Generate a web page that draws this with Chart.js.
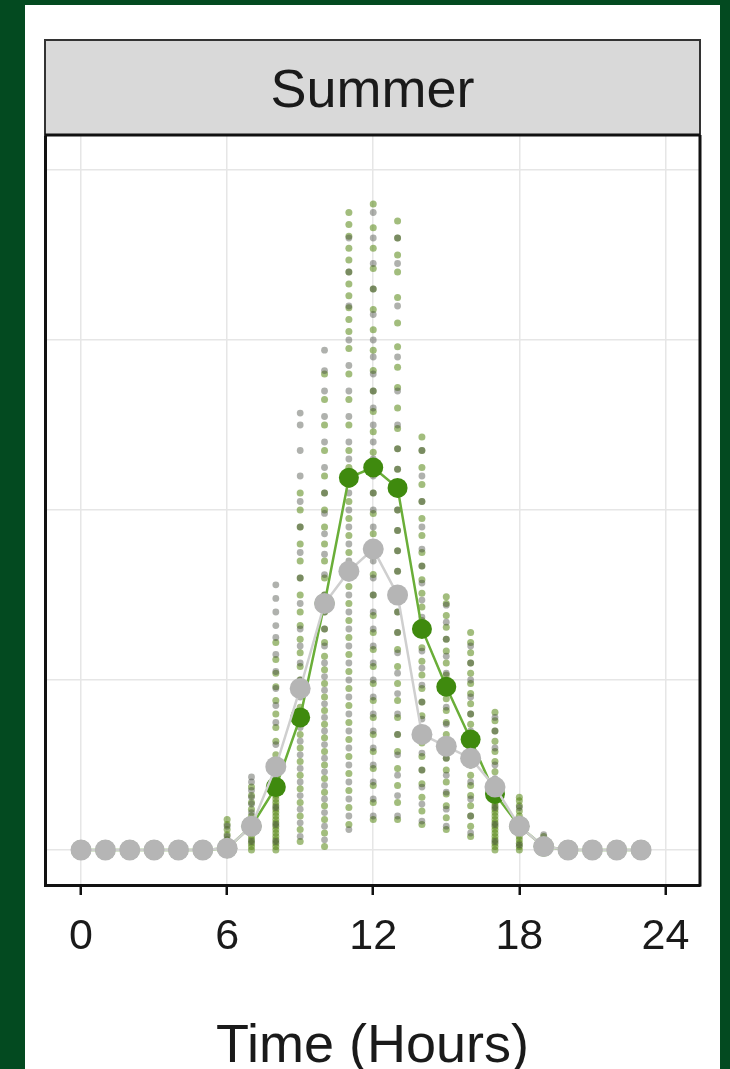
<!DOCTYPE html>
<html>
<head>
<meta charset="utf-8">
<script src="https://cdn.jsdelivr.net/npm/chart.js@4/dist/chart.umd.min.js"></script>
<style>
  html, body { margin: 0; padding: 0; background: #034a20; width: 730px; height: 1069px; overflow: hidden; }
  #wrap { position: absolute; left: 25px; top: 5px; width: 695px; height: 1064px; background: #ffffff; }
  canvas { display: block; }
</style>
</head>
<body>
<div id="wrap"><canvas id="c" width="695" height="1064"></canvas></div>
<script>
// Hour of day for each hourly mean
const hours = [0, 1, 2, 3, 4, 5, 6, 7, 8, 9, 10, 11, 12, 13, 14, 15, 16, 17, 18, 19, 20, 21, 22, 23];
const xTickValues = [0, 6, 12, 18, 24];
const yGridValues = [0, 1, 2, 3, 4];
const panelTitle = 'Summer';
const xTitle = 'Time (Hours)';

// Hourly means
const greenMean = [0, 0, 0, 0, 0, 0, 0.01, 0.14, 0.37, 0.78, 1.45, 2.19, 2.25, 2.13, 1.30, 0.96, 0.65, 0.33, 0.14, 0.02, 0, 0, 0, 0];
const grayMean  = [0, 0, 0, 0, 0, 0, 0.01, 0.14, 0.49, 0.95, 1.45, 1.64, 1.77, 1.50, 0.68, 0.61, 0.54, 0.37, 0.14, 0.02, 0, 0, 0, 0];

// Individual observations, one list per hour (0..23)
const greenObs = [
  [], [], [], [], [], [],
  [0.0, 0.03, 0.06, 0.09, 0.12, 0.15, 0.18],
  [0.0, 0.02, 0.04, 0.06, 0.08, 0.10, 0.12, 0.14, 0.17, 0.20, 0.24, 0.28, 0.32, 0.37],
  [0.0, 0.02, 0.04, 0.06, 0.08, 0.10, 0.12, 0.14, 0.16, 0.18, 0.20, 0.22, 0.24, 0.26, 0.28, 0.30, 0.32, 0.34, 0.36, 0.40, 0.48, 0.56, 0.64, 0.72, 0.80, 0.88, 0.96, 1.04, 1.12, 1.22],
  [0.05, 0.12, 0.20, 0.28, 0.36, 0.44, 0.52, 0.60, 0.68, 0.76, 0.84, 0.92, 1.00, 1.08, 1.16, 1.24, 1.32, 1.40, 1.50, 1.60, 1.70, 1.80, 1.90, 2.00, 2.10],
  [0.02, 0.10, 0.18, 0.26, 0.34, 0.42, 0.50, 0.58, 0.66, 0.74, 0.82, 0.90, 0.98, 1.06, 1.14, 1.22, 1.30, 1.40, 1.50, 1.60, 1.70, 1.80, 1.90, 2.00, 2.10, 2.20, 2.35, 2.50, 2.65, 2.80],
  [0.15, 0.25, 0.35, 0.45, 0.55, 0.65, 0.75, 0.85, 0.95, 1.05, 1.15, 1.25, 1.35, 1.45, 1.55, 1.65, 1.75, 1.85, 1.95, 2.05, 2.15, 2.25, 2.35, 2.50, 2.65, 2.80, 2.95, 3.05, 3.12, 3.19, 3.26, 3.33, 3.40, 3.47, 3.54, 3.61, 3.68, 3.75],
  [0.18, 0.28, 0.38, 0.48, 0.58, 0.68, 0.78, 0.88, 0.98, 1.08, 1.18, 1.28, 1.38, 1.50, 1.62, 1.74, 1.86, 1.98, 2.10, 2.22, 2.34, 2.46, 2.58, 2.70, 2.82, 2.94, 3.06, 3.18, 3.30, 3.42, 3.54, 3.66, 3.80],
  [0.18, 0.28, 0.38, 0.48, 0.58, 0.68, 0.78, 0.88, 0.98, 1.08, 1.18, 1.28, 1.40, 1.52, 1.64, 1.76, 1.88, 2.00, 2.12, 2.24, 2.36, 2.48, 2.60, 2.72, 2.84, 2.96, 3.10, 3.25, 3.40, 3.50, 3.60, 3.70],
  [0.15, 0.23, 0.31, 0.39, 0.47, 0.55, 0.63, 0.71, 0.79, 0.87, 0.95, 1.03, 1.11, 1.19, 1.27, 1.35, 1.43, 1.51, 1.59, 1.67, 1.75, 1.85, 1.95, 2.05, 2.15, 2.25, 2.35, 2.43],
  [0.12, 0.19, 0.26, 0.33, 0.40, 0.47, 0.54, 0.61, 0.68, 0.75, 0.82, 0.89, 0.96, 1.03, 1.10, 1.17, 1.24, 1.31, 1.38, 1.45, 1.49],
  [0.08, 0.14, 0.20, 0.26, 0.32, 0.38, 0.44, 0.50, 0.56, 0.62, 0.68, 0.74, 0.80, 0.86, 0.92, 0.98, 1.04, 1.10, 1.16, 1.22, 1.28],
  [0.0, 0.02, 0.04, 0.06, 0.08, 0.10, 0.12, 0.14, 0.16, 0.18, 0.20, 0.22, 0.24, 0.26, 0.28, 0.30, 0.32, 0.35, 0.40, 0.46, 0.52, 0.58, 0.64, 0.70, 0.76, 0.81],
  [0.0, 0.02, 0.04, 0.06, 0.08, 0.10, 0.12, 0.14, 0.16, 0.18, 0.20, 0.23, 0.26, 0.29, 0.31],
  [0.02, 0.05, 0.08],
  [], [], [], []
];
const grayObs = [
  [], [], [], [], [], [],
  [0.02, 0.08, 0.14],
  [0.05, 0.15, 0.22, 0.27, 0.31, 0.35, 0.40, 0.43],
  [0.05, 0.15, 0.25, 0.42, 0.52, 0.62, 0.75, 0.85, 0.95, 1.05, 1.15, 1.25, 1.32, 1.40, 1.48, 1.56],
  [0.08, 0.16, 0.24, 0.32, 0.40, 0.48, 0.56, 0.64, 0.72, 0.80, 0.90, 1.00, 1.10, 1.20, 1.30, 1.45, 1.60, 1.75, 1.90, 2.05, 2.20, 2.35, 2.50, 2.57],
  [0.06, 0.14, 0.22, 0.30, 0.38, 0.46, 0.54, 0.62, 0.70, 0.78, 0.86, 0.94, 1.02, 1.10, 1.20, 1.30, 1.40, 1.50, 1.62, 1.74, 1.86, 1.98, 2.10, 2.25, 2.40, 2.55, 2.70, 2.82, 2.94],
  [0.12, 0.20, 0.30, 0.40, 0.50, 0.60, 0.70, 0.80, 0.90, 1.00, 1.10, 1.20, 1.30, 1.40, 1.50, 1.60, 1.70, 1.80, 1.90, 2.00, 2.10, 2.20, 2.30, 2.40, 2.55, 2.70, 2.85, 3.00, 3.20, 3.40, 3.60],
  [0.20, 0.30, 0.40, 0.50, 0.60, 0.70, 0.80, 0.90, 1.00, 1.10, 1.20, 1.30, 1.40, 1.50, 1.60, 1.70, 1.80, 1.90, 2.00, 2.10, 2.20, 2.30, 2.40, 2.50, 2.60, 2.70, 2.80, 2.90, 3.00, 3.15, 3.30, 3.45, 3.60, 3.75],
  [0.20, 0.32, 0.44, 0.56, 0.68, 0.80, 0.92, 1.04, 1.16, 1.28, 1.40, 1.52, 1.64, 1.76, 1.88, 2.00, 2.12, 2.24, 2.36, 2.50, 2.70, 2.90, 3.20, 3.45, 3.60],
  [0.17, 0.27, 0.37, 0.47, 0.57, 0.67, 0.77, 0.87, 0.97, 1.07, 1.17, 1.27, 1.37, 1.47, 1.57, 1.67, 1.77, 1.90, 2.05, 2.20, 2.35],
  [0.14, 0.24, 0.34, 0.44, 0.54, 0.64, 0.74, 0.84, 0.94, 1.04, 1.14, 1.24, 1.34, 1.44],
  [0.10, 0.20, 0.30, 0.40, 0.50, 0.60, 0.70, 0.80, 0.90, 1.00, 1.10, 1.20],
  [0.05, 0.15, 0.25, 0.35, 0.42, 0.50, 0.60, 0.70, 0.78],
  [0.03, 0.10, 0.18, 0.25],
  [0.04, 0.09],
  [], [], [], []
];

const FONT = '"Liberation Sans", Arial, Helvetica, sans-serif';
const INK = '#1a1a1a';

const toPoints = (values) => values.map((v, i) => ({ x: hours[i], y: v }));
const obsPoints = (lists) => lists.flatMap((vals, h) => vals.map(v => ({ x: hours[h], y: v })));

// Facet strip above the panel and the panel's right edge
const facetFrame = {
  id: 'facetFrame',
  afterDraw(chart) {
    const { ctx, chartArea: a } = chart;
    const stripH = 95;
    const top = a.top - stripH;
    ctx.save();
    ctx.fillStyle = '#d9d9d9';
    ctx.fillRect(a.left, top, a.right - a.left, stripH);
    ctx.strokeStyle = '#333333';
    ctx.lineWidth = 2;
    ctx.strokeRect(a.left, top, a.right - a.left, stripH);
    ctx.fillStyle = INK;
    ctx.font = '54px ' + FONT;
    ctx.textAlign = 'center';
    ctx.textBaseline = 'middle';
    ctx.fillText(panelTitle, (a.left + a.right) / 2, top + stripH / 2 + 5);
    ctx.strokeStyle = '#111111';
    ctx.lineWidth = 3;
    ctx.beginPath();
    ctx.moveTo(a.right, a.top);
    ctx.lineTo(a.right, a.bottom + 1.5);
    ctx.moveTo(a.left, a.top);
    ctx.lineTo(a.right, a.top);
    ctx.stroke();
    ctx.restore();
  }
};

new Chart(document.getElementById('c'), {
  type: 'line',
  data: {
    datasets: [
      {
        label: 'gray mean',
        data: toPoints(grayMean),
        borderColor: '#cfcfcf',
        borderWidth: 2.5,
        backgroundColor: '#b5b5b5',
        pointBackgroundColor: '#b5b5b5',
        pointBorderWidth: 0,
        pointRadius: 10.5,
        tension: 0
      },
      {
        label: 'green mean',
        data: toPoints(greenMean),
        borderColor: '#6aae38',
        borderWidth: 2.5,
        backgroundColor: '#3f8a0e',
        pointBackgroundColor: '#3f8a0e',
        pointBorderWidth: 0,
        pointRadius: 10,
        tension: 0
      },
      {
        label: 'gray observations',
        data: obsPoints(grayObs),
        showLine: false,
        pointRadius: 3.4,
        pointBorderWidth: 0,
        pointBackgroundColor: 'rgba(65, 70, 60, 0.42)'
      },
      {
        label: 'green observations',
        data: obsPoints(greenObs),
        showLine: false,
        pointRadius: 3.5,
        pointBorderWidth: 0,
        pointBackgroundColor: 'rgba(85, 135, 18, 0.55)'
      }
    ]
  },
  options: {
    responsive: false,
    animation: false,
    events: [],
    layout: { padding: { left: 20, right: 20, top: 130, bottom: 0 } },
    plugins: { legend: { display: false }, tooltip: { enabled: false } },
    scales: {
      x: {
        type: 'linear',
        min: -1.48,
        max: 25.42,
        afterBuildTicks: s => { s.ticks = xTickValues.map(v => ({ value: v })); },
        afterFit: s => { s.height = 184; },
        grid: { color: '#e6e6e6', lineWidth: 1.5, tickColor: '#111111', tickLength: 10, tickWidth: 2.5 },
        border: { color: '#111111', width: 3 },
        ticks: { color: INK, font: { size: 43, family: FONT }, padding: 16, maxRotation: 0, autoSkip: false },
        title: { display: true, text: xTitle, color: INK, font: { size: 54, family: FONT, lineHeight: 0.8 }, padding: { top: 0, bottom: 0 } }
      },
      y: {
        type: 'linear',
        min: -0.206,
        max: 4.206,
        afterBuildTicks: s => { s.ticks = yGridValues.map(v => ({ value: v })); },
        afterFit: s => { s.width = 0; },
        grid: { color: '#e6e6e6', lineWidth: 1.5, drawTicks: false },
        border: { color: '#111111', width: 3 },
        ticks: { display: false }
      }
    }
  },
  plugins: [facetFrame]
});
</script>
</body>
</html>
